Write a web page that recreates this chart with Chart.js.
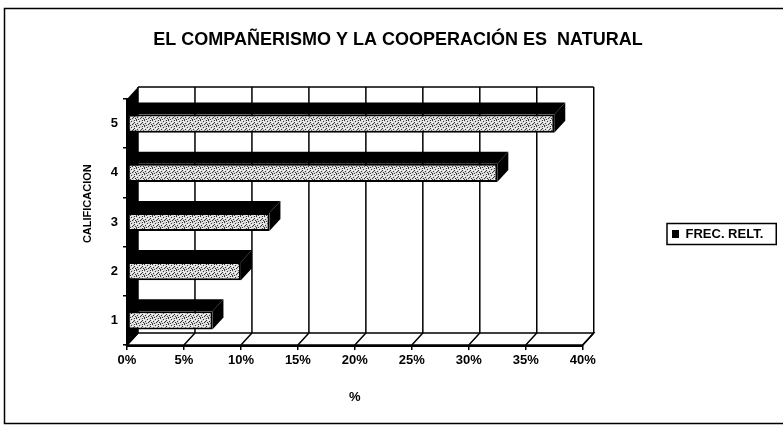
<!DOCTYPE html>
<html>
<head>
<meta charset="utf-8">
<script src="https://cdn.jsdelivr.net/npm/chart.js@4.4.1/dist/chart.umd.min.js"></script>
<style>
  html, body { margin: 0; padding: 0; background: #fff; }
</style>
</head>
<body>
<canvas id="chart" width="783" height="432"></canvas>
<script>
// El compañerismo y la cooperación es natural — 3D-look horizontal bars.
const CATEGORIES = ['1', '2', '3', '4', '5'];
const FREC_RELT = [7.5, 10, 12.5, 32.5, 37.5];
const X_MAX = 40;
const X_STEP = 5;
const TITLE = 'EL COMPAÑERISMO Y LA COOPERACIÓN ES  NATURAL';
const SERIES = 'FREC. RELT.';

const DX = 11, DY = 12;   // depth offset of the fake 3D box
const FONT = "'Liberation Sans', Arial, sans-serif";

Chart.defaults.font.family = FONT;
Chart.defaults.color = '#000';

// speckled light fill like the scanned bar fronts
function speckle() {
  const c = document.createElement('canvas');
  c.width = 8; c.height = 6;
  const g = c.getContext('2d');
  g.fillStyle = '#d8d8d8';
  g.fillRect(0, 0, 8, 6);
  g.fillStyle = '#3a3a3a';
  [[0, 0], [3, 1], [6, 0], [1, 3], [5, 3], [2, 5], [7, 4], [4, 4], [6, 2], [0, 5]].forEach(([x, y]) => g.fillRect(x, y, 1, 1));
  g.fillStyle = '#fff';
  [[2, 0], [7, 1], [4, 2], [0, 2], [6, 5], [3, 3]].forEach(([x, y]) => g.fillRect(x, y, 1, 1));
  return g.createPattern(c, 'repeat');
}

function poly(ctx, pts, fill, stroke) {
  ctx.beginPath();
  pts.forEach(([x, y], i) => (i ? ctx.lineTo(x, y) : ctx.moveTo(x, y)));
  ctx.closePath();
  if (fill) { ctx.fillStyle = fill; ctx.fill(); }
  if (stroke) { ctx.strokeStyle = stroke; ctx.stroke(); }
}

const paper = {
  id: 'paper',
  beforeDraw(chart) {
    const { ctx, width, height } = chart;
    ctx.save();
    ctx.fillStyle = '#fff';
    ctx.fillRect(0, 0, width, height);
    ctx.restore();
  },
  afterLayout(chart) {
    // park the legend where the original had it
    const lg = chart.legend;
    lg.left = 636; lg.right = lg.left + lg.width;
    lg.top += 19; lg.bottom += 19;
  },
  afterDraw(chart) {
    const { ctx } = chart;
    ctx.save();
    ctx.strokeStyle = '#000';
    // legend frame
    const hb = chart.legend.legendHitBoxes[0];
    if (hb) {
      ctx.lineWidth = 1.5;
      ctx.strokeRect(hb.left - 5, hb.top - 4, hb.width + 18, hb.height + 8);
    }
    // outer frame
    ctx.lineWidth = 1.5;
    ctx.beginPath();
    ctx.moveTo(783, 8.5); ctx.lineTo(4.5, 8.5); ctx.lineTo(4.5, 423.5); ctx.lineTo(783, 423.5);
    ctx.stroke();
    ctx.restore();
  },
};

const depth3d = {
  id: 'depth3d',
  beforeDatasetsDraw(chart) {
    const { ctx, chartArea: a, scales: { x } } = chart;
    ctx.save();
    ctx.strokeStyle = '#000';
    ctx.lineWidth = 1.5;

    // back wall: top edge + value gridlines
    ctx.beginPath();
    ctx.moveTo(a.left + DX, a.top - DY); ctx.lineTo(a.right + DX, a.top - DY);
    x.ticks.forEach((t) => {
      const px = x.getPixelForValue(t.value) + DX;
      ctx.moveTo(px, a.top - DY); ctx.lineTo(px, a.bottom - DY);
    });
    ctx.stroke();

    // floor with slanted gridlines
    poly(ctx, [[a.left, a.bottom], [a.right, a.bottom], [a.right + DX, a.bottom - DY], [a.left + DX, a.bottom - DY]], '#fff', '#000');
    ctx.beginPath();
    x.ticks.forEach((t) => {
      const px = x.getPixelForValue(t.value);
      ctx.moveTo(px, a.bottom); ctx.lineTo(px + DX, a.bottom - DY);
    });
    ctx.stroke();

    // left wall, dark
    poly(ctx, [[a.left, a.top], [a.left + DX, a.top - DY], [a.left + DX, a.bottom - DY], [a.left, a.bottom]], '#000');

    // top and end faces of each bar
    chart.getDatasetMeta(0).data.forEach((bar) => {
      const { x: xe, y, base, height } = bar.getProps(['x', 'y', 'base', 'height'], true);
      const t = y - height / 2, b = y + height / 2;
      poly(ctx, [[base, t], [xe, t], [xe + DX, t - DY], [base + DX, t - DY]], '#000');
      poly(ctx, [[xe, t], [xe + DX, t - DY], [xe + DX, b - DY], [xe, b]], '#000');
    });
    ctx.restore();
  },
};

new Chart(document.getElementById('chart'), {
  type: 'bar',
  data: {
    labels: CATEGORIES,
    datasets: [{
      label: SERIES,
      data: FREC_RELT,
      backgroundColor: speckle(),
      borderColor: '#000',
      borderWidth: 2,
      borderSkipped: false,
      barPercentage: 0.37,
      categoryPercentage: 1,
    }],
  },
  options: {
    indexAxis: 'y',
    responsive: false,
    animation: false,
    layout: { padding: { left: 76, right: 63, top: 8, bottom: 10 } },
    plugins: {
      tooltip: { enabled: false },
      title: {
        display: true,
        text: TITLE,
        font: { size: 18, weight: 'bold' },
        padding: { top: 21, bottom: 48.4 },
      },
      legend: {
        position: 'right',
        labels: {
          boxWidth: 7,
          boxHeight: 8,
          padding: 36,
          font: { size: 13, weight: 'bold' },
          generateLabels: (chart) => Chart.defaults.plugins.legend.labels.generateLabels(chart)
            .map((l) => ({ ...l, fillStyle: '#000', strokeStyle: '#000', lineWidth: 0 })),
        },
      },
    },
    scales: {
      x: {
        min: 0,
        max: X_MAX,
        ticks: { stepSize: X_STEP, callback: (v) => v + '%', font: { size: 13, weight: 'bold' }, padding: 3 },
        grid: { drawOnChartArea: false, drawTicks: true, tickLength: 5, color: '#000', lineWidth: 1.5 },
        border: { display: true, color: '#000', width: 3 },
        title: { display: true, text: '%', font: { size: 13, weight: 'bold' }, padding: { top: 0, bottom: 17 } },
        afterFit: (s) => { s.height = 77; },
      },
      y: {
        reverse: true,
        ticks: { font: { size: 13, weight: 'bold' }, padding: 5 },
        grid: { drawOnChartArea: false, drawTicks: true, tickLength: 4, color: '#000', lineWidth: 1.5 },
        border: { display: true, color: '#000', width: 2 },
        title: {
          display: true,
          text: '\u00a0'.repeat(12) + 'CALIFICACION',
          font: { size: 11, weight: 'bold' },
          padding: { top: 5, bottom: 0 },
        },
        afterFit: (s) => { s.width = 51; },
      },
    },
  },
  plugins: [paper, depth3d],
});
</script>
</body>
</html>
